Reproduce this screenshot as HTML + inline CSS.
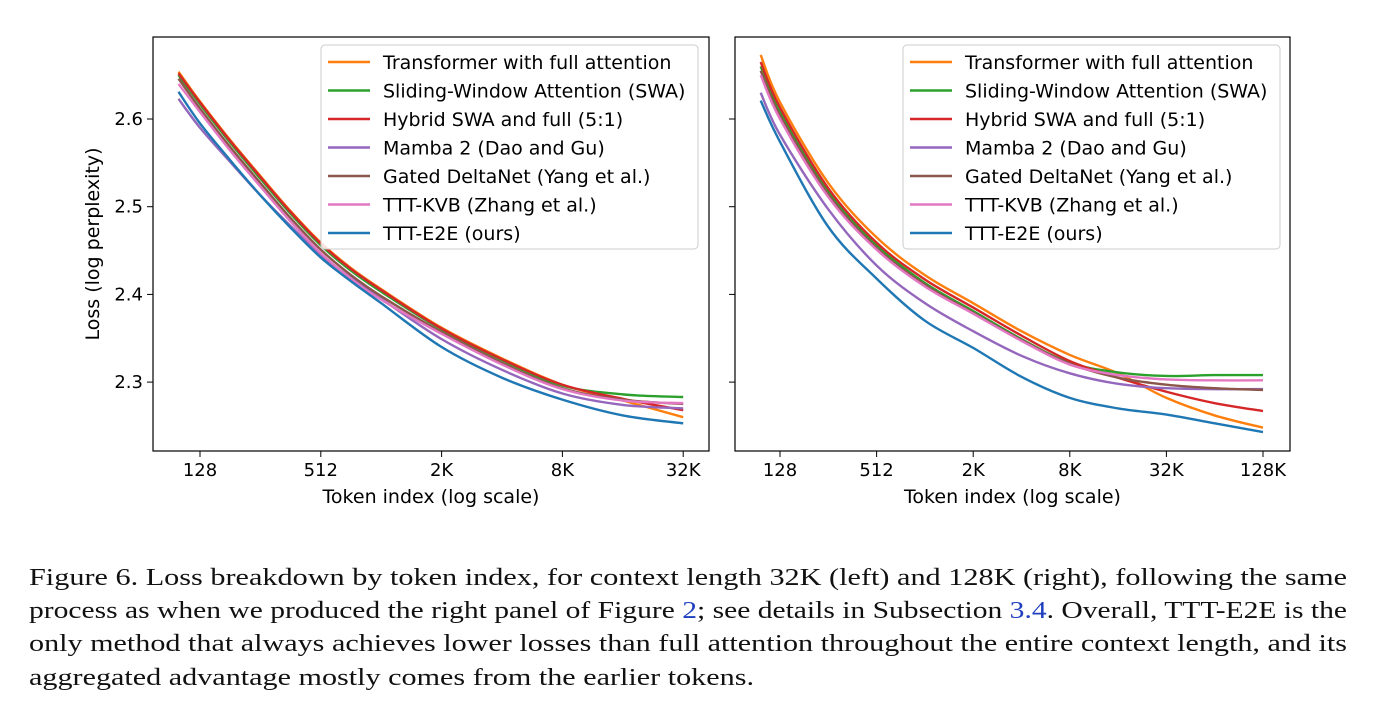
<!DOCTYPE html>
<html><head><meta charset="utf-8">
<style>
body{margin:0;background:#fff;width:1379px;height:708px;overflow:hidden;font-family:"DejaVu Sans","Liberation Sans",sans-serif;}
</style></head><body>
<svg id="chart" width="1379" height="708" style="position:absolute;left:0;top:0"></svg>
<script>
const seriesNames=["Transformer with full attention","Sliding-Window Attention (SWA)","Hybrid SWA and full (5:1)","Mamba 2 (Dao and Gu)","Gated DeltaNet (Yang et al.)","TTT-KVB (Zhang et al.)","TTT-E2E (ours)"];
const colors=["#ff7f0e","#2ca02c","#d62728","#9467bd","#8c564b","#e377c2","#1f77b4"];
const yTicks=[2.3,2.4,2.5,2.6];
const leftTokens=[100,128,181,256,362,512,724,1024,2048,4096,8192,16384,32768];
const leftOrange=[2.654,2.620,2.576,2.535,2.495,2.459,2.430,2.406,2.362,2.327,2.297,2.279,2.260];
const leftGreen=[2.650,2.617,2.573,2.532,2.492,2.456,2.427,2.403,2.360,2.325,2.296,2.286,2.283];
const leftRed=[2.652,2.619,2.575,2.534,2.494,2.458,2.429,2.405,2.361,2.326,2.297,2.281,2.268];
const leftPurple=[2.623,2.590,2.551,2.513,2.478,2.445,2.419,2.395,2.349,2.314,2.287,2.274,2.270];
const leftBrown=[2.646,2.612,2.568,2.527,2.487,2.451,2.422,2.398,2.357,2.322,2.293,2.280,2.275];
const leftPink=[2.640,2.608,2.564,2.523,2.483,2.447,2.418,2.394,2.355,2.320,2.292,2.279,2.276];
const leftBlue=[2.631,2.595,2.553,2.513,2.476,2.442,2.415,2.390,2.340,2.305,2.280,2.262,2.253];
const leftXTicks=[128,512,2048,8192,32768];
const leftXLabels=["128","512","2K","8K","32K"];
const rightTokens=[97,128,256,512,1024,2048,4096,8192,16384,32768,65536,131072];
const rightOrange=[2.673,2.619,2.527,2.465,2.422,2.390,2.358,2.331,2.310,2.282,2.262,2.248];
const rightGreen=[2.660,2.609,2.517,2.456,2.413,2.381,2.349,2.322,2.311,2.307,2.308,2.308];
const rightRed=[2.665,2.613,2.521,2.459,2.417,2.385,2.353,2.324,2.305,2.289,2.276,2.267];
const rightPurple=[2.630,2.582,2.497,2.433,2.390,2.358,2.330,2.310,2.298,2.293,2.292,2.292];
const rightBrown=[2.655,2.604,2.514,2.453,2.411,2.379,2.348,2.321,2.305,2.297,2.293,2.291];
const rightPink=[2.650,2.600,2.511,2.451,2.409,2.378,2.347,2.320,2.308,2.303,2.302,2.302];
const rightBlue=[2.621,2.574,2.477,2.418,2.370,2.339,2.306,2.282,2.270,2.263,2.253,2.243];
const rightXTicks=[128,512,2048,8192,32768,131072];
const rightXLabels=["128","512","2K","8K","32K","128K"];

const svg=document.getElementById('chart');
const NS="http://www.w3.org/2000/svg";
function mk(tag,attrs,parent){const e=document.createElementNS(NS,tag);for(const k in attrs)e.setAttribute(k,attrs[k]);(parent||svg).appendChild(e);return e;}
function yScale(v){return 119+(2.6-v)*877;}
function smooth(pts){let d=`M${pts[0][0]},${pts[0][1]}`;for(let i=0;i<pts.length-1;i++){const p0=pts[Math.max(0,i-1)],p1=pts[i],p2=pts[i+1],p3=pts[Math.min(pts.length-1,i+2)];const c1=[p1[0]+(p2[0]-p0[0])/6,p1[1]+(p2[1]-p0[1])/6],c2=[p2[0]-(p3[0]-p1[0])/6,p2[1]-(p3[1]-p1[1])/6];d+=`C${c1[0]},${c1[1]} ${c2[0]},${c2[1]} ${p2[0]},${p2[1]}`;}return d;}
function panel(name,box,x0,pxPerDoubling,tokens,series,xt,xl,showY){
  const g=mk('g',{});
  
  
  const xs=t=>x0+Math.log2(t/128)*pxPerDoubling;
  series.forEach((vals,i)=>{const p=mk('path',{d:smooth(tokens.map((t,j)=>[xs(t),yScale(vals[j])])),fill:'none',stroke:colors[i],'stroke-width':2.4},g);
    
    });
  const fr=mk('rect',{x:box[0],y:box[1],width:box[2]-box[0],height:box[3]-box[1],fill:'none',stroke:'#000','stroke-width':1.2},g);
  
  xt.forEach((t,i)=>{const x=xs(t);mk('line',{x1:x,x2:x,y1:box[3],y2:box[3]+6,stroke:'#000'},g);
    const tx=mk('text',{x:x,y:box[3]+25,'text-anchor':'middle','font-size':18},g);tx.textContent=xl[i];
    });
  yTicks.forEach(v=>{const y=yScale(v);mk('line',{x1:box[0]-6,x2:box[0],y1:y,y2:y,stroke:'#000'},g);
    if(showY){const tx=mk('text',{x:box[0]-10,y:y+6,'text-anchor':'end','font-size':18},g);tx.textContent=v.toFixed(1);
    }});
  const xt2=mk('text',{x:(box[0]+box[2])/2,y:box[3]+52,'text-anchor':'middle','font-size':19},g);xt2.textContent='Token index (log scale)';
  
  const lx=box[0]+168;
  const lg=mk('rect',{x:lx,y:45,width:377,height:204,fill:'#fff','fill-opacity':0.85,stroke:'#ccc',rx:4},g);
  
  seriesNames.forEach((n,i)=>{const y=62+i*28.5;mk('line',{x1:lx+7,x2:lx+49,y1:y,y2:y,stroke:colors[i],'stroke-width':2.4},g);
    const t=mk('text',{x:lx+62,y:y+7,'font-size':19},g);t.textContent=n;
    });
}
panel('left-panel-32k',[153,37,709,451],200,60.4,leftTokens,[leftOrange,leftGreen,leftRed,leftPurple,leftBrown,leftPink,leftBlue],leftXTicks,leftXLabels,true);
panel('right-panel-128k',[735,37,1290,451],780,48.3,rightTokens,[rightOrange,rightGreen,rightRed,rightPurple,rightBrown,rightPink,rightBlue],rightXTicks,rightXLabels,false);
const yt=mk('text',{x:0,y:0,'font-size':19,'text-anchor':'middle',transform:'translate(99,244) rotate(-90)'});
yt.textContent='Loss (log perplexity)';


</script>
<svg width="1379" height="708" style="position:absolute;left:0;top:0" font-family="Liberation Serif, serif" font-size="24" fill="#111">
<text x="29" y="585" textLength="1318" lengthAdjust="spacingAndGlyphs">Figure 6. Loss breakdown by token index, for context length 32K (left) and 128K (right), following the same</text>
<text x="29" y="618" textLength="1318" lengthAdjust="spacingAndGlyphs">process as when we produced the right panel of Figure <tspan fill="#1f3fbf">2</tspan>; see details in Subsection <tspan fill="#1f3fbf">3.4</tspan>. Overall, TTT-E2E is the</text>
<text x="29" y="651" textLength="1318" lengthAdjust="spacingAndGlyphs">only method that always achieves lower losses than full attention throughout the entire context length, and its</text>
<text x="29" y="685" textLength="725" lengthAdjust="spacingAndGlyphs">aggregated advantage mostly comes from the earlier tokens.</text>
</svg>
</body></html>
